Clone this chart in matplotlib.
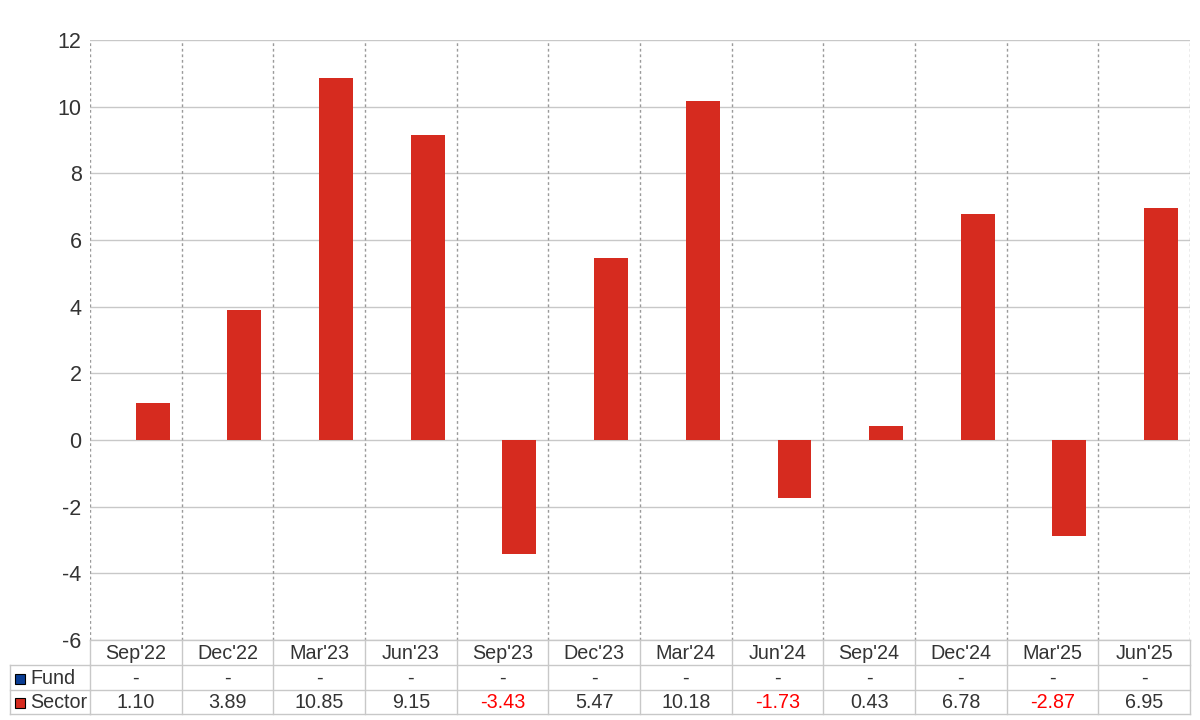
import matplotlib
matplotlib.use('Agg')
import matplotlib.pyplot as plt
import matplotlib.transforms as transforms
from matplotlib.lines import Line2D
from matplotlib.patches import Rectangle
import numpy as np

plt.rcParams['font.family'] = ['Liberation Sans', 'DejaVu Sans']

categories = ["Sep'22", "Dec'22", "Mar'23", "Jun'23", "Sep'23", "Dec'23",
              "Mar'24", "Jun'24", "Sep'24", "Dec'24", "Mar'25", "Jun'25"]
fund = [None] * 12
sector = [1.10, 3.89, 10.85, 9.15, -3.43, 5.47, 10.18, -1.73, 0.43, 6.78, -2.87, 6.95]
series_names = ["Fund", "Sector"]
series_colors = ['#0a3d94', '#d62b1f']
yticks = [-6, -4, -2, 0, 2, 4, 6, 8, 10, 12]

W, H = 1200, 720
fig = plt.figure(figsize=(12, 7.2), dpi=100)
ax = fig.add_axes([90 / W, 1 - 640 / H, 1100 / W, 600 / H])

x = np.arange(len(categories))
bw = 0.37
fund_vals = [np.nan if v is None else v for v in fund]
ax.bar(x - bw / 2, fund_vals, bw, color=series_colors[0], zorder=3)
ax.bar(x + bw / 2, sector, bw, color=series_colors[1], zorder=3)

ax.set_xlim(-0.5, len(categories) - 0.5)
ax.set_ylim(-6, 12)
ax.set_yticks(yticks)
ax.set_yticklabels([str(t) for t in yticks], fontsize=15.5, color='#333333')
ax.tick_params(axis='y', length=0, pad=6)
ax.set_xticks([])
for s in ax.spines.values():
    s.set_visible(False)

grid_h = '#c8c8c8'
grid_v = '#9a9a9a'
for t in yticks:
    ax.axhline(t, color=grid_h, lw=1, zorder=1)
for i in range(len(categories) + 1):
    ax.axvline(i - 0.5, color=grid_v, lw=1, ls=(0, (2, 2)), zorder=1)

# table under the chart
tr = transforms.blended_transform_factory(ax.transData, fig.transFigure)
def fy(py):
    return 1 - py / H

row_y = [640, 665, 690, 714]
x0, x1 = -0.5, len(categories) - 0.5
for py in row_y:
    fig.add_artist(Line2D([x0, x1], [fy(py), fy(py)], transform=tr, color=grid_h, lw=1))
for i in range(len(categories) + 1):
    fig.add_artist(Line2D([i - 0.5, i - 0.5], [fy(640), fy(714)], transform=tr, color=grid_h, lw=1))

# left legend column
lx0, lx1 = 10 / W, 90 / W
for py in row_y[1:]:
    fig.add_artist(Line2D([lx0, lx1], [fy(py), fy(py)], transform=fig.transFigure, color=grid_h, lw=1))
fig.add_artist(Line2D([lx0, lx0], [fy(665), fy(714)], transform=fig.transFigure, color=grid_h, lw=1))

txt_color = '#333333'
tsize = 14.2
for i, c in enumerate(categories):
    fig.text(i, fy((row_y[0] + row_y[1]) / 2 + 1), c, transform=tr, ha='center', va='center',
             fontsize=tsize, color=txt_color)

rows = [fund, sector]
for r, (name, vals, col) in enumerate(zip(series_names, rows, series_colors)):
    cy = fy((row_y[r + 1] + row_y[r + 2]) / 2 + 1)
    fig.add_artist(Rectangle((15 / W, cy - 5 / H), 10 / W, 10 / H, transform=fig.transFigure,
                             facecolor=col, edgecolor='black', lw=0.8))
    fig.text(30 / W, cy, name, ha='left', va='center', fontsize=tsize, color=txt_color)
    for i, v in enumerate(vals):
        if v is None:
            s, tc = '-', txt_color
        else:
            s = '%.2f' % v
            tc = '#ff0000' if v < 0 else txt_color
        fig.text(i, cy, s, transform=tr, ha='center', va='center', fontsize=tsize, color=tc)

fig.savefig('out.png', dpi=100)
